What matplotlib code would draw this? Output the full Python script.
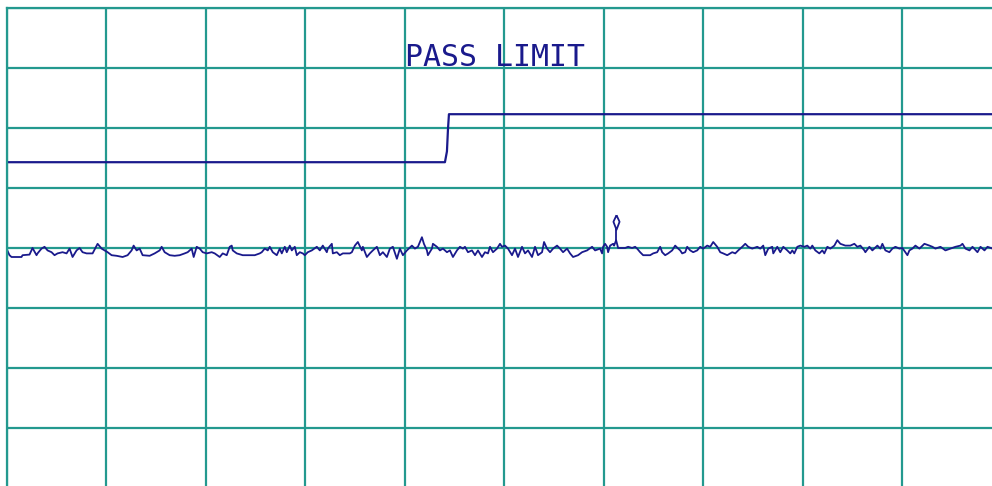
import numpy as np
import matplotlib
matplotlib.use('Agg')
import matplotlib.pyplot as plt

# spectrum trace (frequency units, level dB)
freq_div1 = [0, 3, 5, 15, 16, 23, 26, 30, 31, 35, 38, 41, 45, 48, 51, 56, 60, 63, 66, 70,
             73, 76, 80, 86, 91, 95, 98, 101, 105, 110, 116, 121, 125, 127, 130, 133, 136,
             143, 148, 153, 155, 158, 163, 168, 173, 178, 181, 185, 187, 190, 193]
level_div1 = [39.9, 38.8, 38.5, 38.5, 38.8, 38.9, 40.0, 38.8, 39.1, 39.9, 40.2, 39.6, 39.3,
              38.8, 39.1, 39.3, 39.1, 39.9, 38.5, 39.6, 40.0, 39.3, 39.1, 39.1, 40.7, 39.9,
              39.6, 39.3, 38.8, 38.7, 38.5, 38.8, 39.6, 40.4, 39.6, 39.9, 38.8, 38.7, 39.1,
              39.6, 40.2, 39.3, 38.8, 38.7, 38.8, 39.1, 39.3, 39.9, 38.5, 40.2, 39.9]

freq_div2 = [196, 200, 205, 208, 213, 216, 220, 223, 225, 226, 230, 236, 248, 253, 255, 258,
             261, 263, 266, 270, 273, 275, 278, 280, 283, 285, 288, 290, 293, 296, 298, 301,
             305, 310, 313, 316, 320, 321, 325, 326, 330, 333, 336, 343, 345, 348, 351, 355,
             356, 360, 363, 366, 370, 373, 376, 380, 383, 386, 390, 393]
level_div2 = [39.3, 39.1, 39.3, 39.1, 38.5, 39.1, 38.8, 40.2, 40.4, 39.6, 39.1, 38.8, 38.8,
              39.1, 39.3, 39.9, 39.6, 40.2, 39.3, 38.8, 39.9, 39.1, 40.2, 39.3, 40.4, 39.6,
              40.2, 38.8, 39.3, 39.1, 38.8, 39.3, 39.6, 40.2, 39.6, 40.4, 39.3, 39.9, 40.7,
              39.1, 39.3, 38.8, 39.1, 39.1, 39.3, 40.4, 41.0, 39.6, 40.2, 38.5, 39.1, 39.6,
              40.2, 38.8, 39.3, 38.5, 39.9, 40.2, 38.2, 39.9]

freq_div3 = [396, 400, 405, 408, 411, 413, 415, 417, 420, 421, 425, 426, 430, 433, 436, 440,
             443, 446, 450, 453, 456, 458, 461, 465, 468, 471, 475, 478, 481, 483, 486, 490,
             493, 495, 498, 501, 505, 508, 511, 515, 518, 521, 525, 528, 531, 535, 537, 540,
             543, 546, 550, 553, 556, 560, 563, 566, 571, 575, 580, 585, 588, 593]
level_div3 = [38.8, 39.6, 40.4, 39.9, 40.2, 41.0, 41.8, 40.7, 39.6, 38.8, 39.9, 40.7, 40.2,
              39.6, 39.9, 39.3, 39.6, 38.5, 39.6, 40.2, 39.9, 40.2, 39.3, 39.6, 38.8, 39.6,
              38.5, 39.3, 39.1, 40.2, 39.3, 39.9, 40.7, 40.2, 40.4, 39.9, 38.8, 39.9, 38.5,
              40.2, 39.1, 39.6, 38.5, 40.2, 38.8, 39.3, 41.0, 39.9, 39.3, 39.9, 40.4, 39.9,
              39.3, 39.9, 39.1, 38.5, 38.8, 39.3, 39.6, 40.2, 39.6, 39.9]

freq_div4 = [595, 596, 598, 600, 601, 603, 606, 607, 609, 611, 618, 621, 625, 628, 630, 633,
             636, 643, 646, 650, 653, 655, 658, 661, 665, 668, 671, 673, 675, 678, 680, 683,
             686, 690, 693, 696, 700, 703, 706, 710, 713, 716, 720, 725, 728, 731, 735, 738,
             741, 745, 750, 753, 756, 758, 761, 765, 766, 770, 773, 776, 780, 783]
level_div4 = [39.1, 40.2, 40.7, 40.2, 39.3, 40.4, 40.7, 40.4, 41.3, 40.0, 40.0, 40.2, 40.0,
              40.2, 39.9, 39.3, 38.8, 38.8, 39.1, 39.3, 40.2, 39.3, 38.8, 39.1, 39.6, 40.4,
              39.9, 39.6, 39.1, 39.3, 40.2, 39.6, 39.3, 39.6, 40.2, 39.9, 40.4, 40.2, 41.0,
              40.2, 39.3, 39.1, 38.8, 39.3, 39.1, 39.6, 40.2, 40.7, 40.2, 39.9, 40.2, 39.9,
              40.4, 38.8, 39.9, 40.2, 39.1, 40.2, 39.3, 40.2, 39.6, 39.1]

freq_div5 = [785, 787, 790, 793, 797, 800, 803, 805, 808, 812, 815, 817, 820, 823, 827, 830,
             833, 838, 843, 847, 850, 853, 857, 858, 862, 865, 870, 873, 875, 878, 882, 885,
             888, 892, 895, 900, 902, 905, 908, 912, 917, 922, 925, 928, 933, 938, 943, 948,
             953, 955, 958, 962, 965, 970, 973, 977, 980, 985]
level_div5 = [39.6, 39.1, 40.2, 40.4, 40.2, 40.4, 39.9, 40.4, 39.6, 39.1, 39.6, 39.1, 40.2,
              39.9, 40.4, 41.3, 40.7, 40.4, 40.4, 40.7, 40.2, 40.4, 39.6, 39.3, 40.2, 39.6,
              40.4, 39.9, 40.7, 39.6, 39.3, 39.9, 40.2, 39.9, 40.0, 38.8, 39.6, 39.9, 40.4,
              39.9, 40.7, 40.4, 40.2, 39.9, 40.2, 39.6, 39.9, 40.2, 40.4, 40.7, 39.9, 39.6,
              40.2, 39.3, 40.2, 39.6, 40.2, 39.9]

# pass limit line
limit_freq = [0, 438, 440, 441, 442, 985]
limit_level = [54.3, 54.3, 56.1, 59.7, 62.3, 62.3]

# marker on the peak
marker_freq = 609
marker_peak = 41.3
marker_level = 44.4

freq = freq_div1 + freq_div2 + freq_div3 + freq_div4 + freq_div5
level = level_div1 + level_div2 + level_div3 + level_div4 + level_div5

grid_col = '#23998f'
trace_col = '#1a1a8c'

fig = plt.figure(figsize=(9.92, 4.86), dpi=100)
ax = fig.add_axes([6.5 / 992, -2 / 486, 995 / 992, 480 / 486])
ax.set_xlim(0, 994)
ax.set_ylim(0, 80)

ax.set_xticks(np.linspace(0, 994, 11))
ax.set_yticks(np.arange(0, 81, 10))
ax.grid(True, color=grid_col, linewidth=1.6)
ax.tick_params(length=0, labelbottom=False, labelleft=False)
for s in ax.spines.values():
    s.set_color(grid_col)
    s.set_linewidth(1.6)

ax.plot(freq, level, color=trace_col, linewidth=1.3)
ax.plot(limit_freq, limit_level, color=trace_col, linewidth=1.6)

ax.plot([marker_freq, marker_freq], [marker_peak, 43.2], color=trace_col, linewidth=1.3)
diamond = [(0, 1), (0.42, 0.1), (0, -1), (-0.42, 0.1), (0, 1)]
ax.plot([marker_freq], [marker_level], marker=diamond, markersize=10.5,
        markerfacecolor='white', markeredgecolor=trace_col, markeredgewidth=1.3,
        linestyle='none')

ax.text(398, 70.3, 'PASS LIMIT', color=trace_col, fontsize=21.5,
        family='DejaVu Sans Mono', va='baseline', ha='left')

fig.savefig('out.png', dpi=100)
